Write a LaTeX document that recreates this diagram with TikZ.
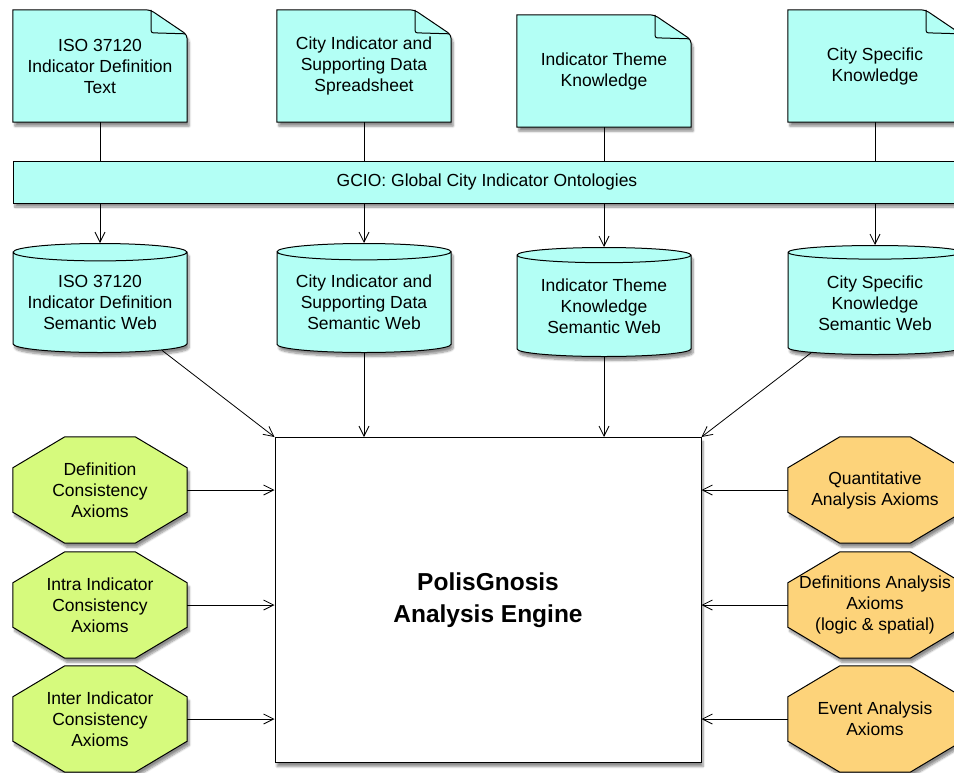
\documentclass[tikz,border=0pt]{standalone}
\usepackage{fontspec}
\setmainfont{Liberation Sans}
\usetikzlibrary{shapes.geometric,arrows.meta,shadows.blur,backgrounds}

\definecolor{webcyan}{RGB}{179,255,245}
\definecolor{axiomgreen}{RGB}{214,250,125}
\definecolor{axiomorange}{RGB}{253,211,122}

\tikzset{
  shape_shadow/.style = {blur shadow={shadow xshift=2pt, shadow yshift=-4pt,
      shadow blur steps=8, shadow opacity=45}},
  outline/.style = {draw = black, line width=1pt},
  doc/.style = {inner sep=0pt, minimum width=174pt, minimum height=112pt, align=center},
  web/.style = {cylinder, shape border rotate=90, aspect=0.12, outline,
      fill=webcyan, inner sep=0pt, minimum width=174pt, minimum height=109pt,
      align=center, shape_shadow},
  axioms/.style = {inner sep=0pt, minimum width=174pt, minimum height=106pt, align=center},
  link/.style = {line width=0.8pt}
}

\begin{document}
\begin{tikzpicture}[x=1pt, y=-1pt, font=\fontsize{17.5}{21}\selectfont,
    >={Straight Barb[length=10pt,width=10pt]}]
    \useasboundingbox (0,0) rectangle (954,772);

    \node (iso_doc)[doc] at (100,66) {ISO 37120\\Indicator Definition\\Text};
    \node (city_doc)[doc] at (364,66) {City Indicator and\\Supporting Data\\Spreadsheet};
    \node (theme_doc)[doc] at (604,71) {Indicator Theme\\Knowledge};
    \node (specific_doc)[doc] at (875,66) {City Specific\\Knowledge};

    \node (gcio_bar)[outline, fill=webcyan, shape_shadow,
        minimum width=948pt, minimum height=42pt] at (487,182)
        {GCIO: Global City Indicator Ontologies};

    \node (iso_web)[web, anchor=north] at (100,243) {ISO 37120\\Indicator Definition\\Semantic Web};
    \node (city_web)[web, anchor=north] at (364,243) {City Indicator and\\Supporting Data\\Semantic Web};
    \node (theme_web)[web, anchor=north] at (604,247) {Indicator Theme\\Knowledge\\Semantic Web};
    \node (specific_web)[web, anchor=north] at (875,245) {City Specific\\Knowledge\\Semantic Web};

    \node (engine)[outline, fill=white, shape_shadow,
        minimum width=426pt, minimum height=325pt,
        font=\fontsize{24.5}{32}\selectfont\bfseries, align=center]
        at (488,600) {PolisGnosis\\Analysis Engine};

    \node (def_axioms)[axioms] at (100,490) {Definition\\Consistency\\Axioms};
    \node (intra_axioms)[axioms] at (100,605) {Intra Indicator\\Consistency\\Axioms};
    \node (inter_axioms)[axioms] at (100,719) {Inter Indicator\\Consistency\\Axioms};
    \node (quant_axioms)[axioms] at (875,490) {Quantitative\\Analysis Axioms};
    \node (defs_axioms)[axioms] at (875,605) {Definitions Analysis\\Axioms\\(logic \& spatial)};
    \node (event_axioms)[axioms] at (875,719) {Event Analysis\\Axioms};

    \begin{scope}[on background layer]
        \foreach \d in {iso_doc, city_doc, theme_doc, specific_doc} {
            \filldraw[outline, fill=webcyan, shape_shadow]
                (\d.south west) -- (\d.north west)
                [rounded corners=4pt] -- ([xshift=-37pt]\d.north east)
                -- ([yshift=-25pt]\d.north east) [sharp corners] -- (\d.south east) -- cycle;
            \draw[outline, rounded corners=2pt]
                ([xshift=-36pt]\d.north east) -- ([xshift=-36pt, yshift=-23pt]\d.north east)
                -- ([xshift=-2pt, yshift=-24pt]\d.north east);
        }
        \foreach \a/\c in {def_axioms/axiomgreen, intra_axioms/axiomgreen,
                inter_axioms/axiomgreen, quant_axioms/axiomorange,
                defs_axioms/axiomorange, event_axioms/axiomorange}
            \filldraw[outline, fill=\c, shape_shadow]
                ([xshift=52pt]\a.north west) -- ([xshift=-52pt]\a.north east)
                -- ([yshift=-31pt]\a.north east) -- ([yshift=31pt]\a.south east)
                -- ([xshift=-52pt]\a.south east) -- ([xshift=52pt]\a.south west)
                -- ([yshift=31pt]\a.south west) -- ([yshift=-31pt]\a.north west) -- cycle;
    \end{scope}

    \path[link] (iso_doc.south) edge (iso_doc.south |- gcio_bar.north);
    \path[link] (city_doc.south) edge (city_doc.south |- gcio_bar.north);
    \path[link] (theme_doc.south) edge (theme_doc.south |- gcio_bar.north);
    \path[link] (specific_doc.south) edge (specific_doc.south |- gcio_bar.north);

    \path[link] (iso_web.north |- gcio_bar.south) edge[->] (iso_web.north);
    \path[link] (city_web.north |- gcio_bar.south) edge[->] (city_web.north);
    \path[link] (theme_web.north |- gcio_bar.south) edge[->] (theme_web.north);
    \path[link] (specific_web.north |- gcio_bar.south) edge[->] (specific_web.north);

    \path[link] (iso_web) edge[->] (engine.north west);
    \path[link] (city_web.south) edge[->] (city_web.south |- engine.north);
    \path[link] (theme_web.south) edge[->] (theme_web.south |- engine.north);
    \path[link] (specific_web) edge[->] (engine.north east);

    \path[link] (def_axioms.east) edge[->] (def_axioms -| engine.west);
    \path[link] (intra_axioms.east) edge[->] (intra_axioms -| engine.west);
    \path[link] (inter_axioms.east) edge[->] (inter_axioms -| engine.west);
    \path[link] (quant_axioms.west) edge[->] (quant_axioms -| engine.east);
    \path[link] (defs_axioms.west) edge[->] (defs_axioms -| engine.east);
    \path[link] (event_axioms.west) edge[->] (event_axioms -| engine.east);
\end{tikzpicture}
\end{document}
